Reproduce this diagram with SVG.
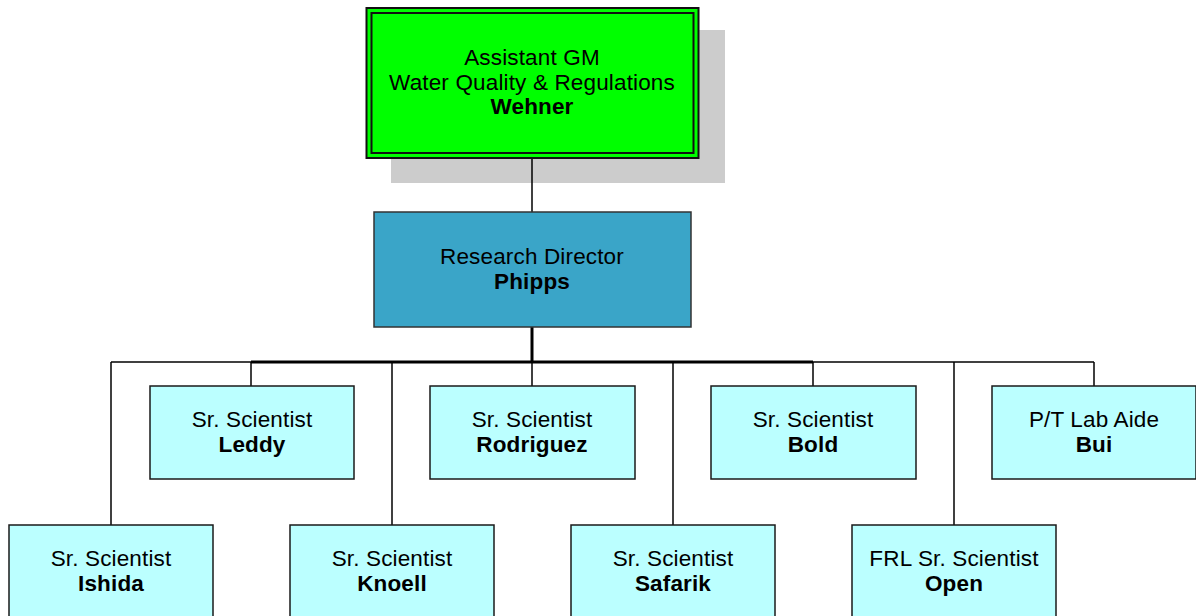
<svg xmlns="http://www.w3.org/2000/svg" width="1196" height="616" viewBox="0 0 1196 616">
<style>
.t{font-family:"Liberation Sans",Arial,sans-serif;font-size:22.5px;fill:#000;text-anchor:middle;letter-spacing:0.15px}
.b{font-weight:bold}
.box{fill:#BBFFFF;stroke:#1a1a1a;stroke-width:1.5}
.ln{stroke:#000;stroke-width:1.5;fill:none}
.thick{stroke:#000;stroke-width:3;fill:none}
</style>
<rect x="391" y="30" width="334" height="153" fill="#cccccc"/>
<g id="connectors">
<line class="ln" x1="532" y1="158" x2="532" y2="212"/>
<line class="thick" x1="532" y1="327" x2="532" y2="362"/>
<line class="ln" x1="111" y1="362" x2="1094" y2="362"/>
<line class="thick" x1="251" y1="362" x2="813" y2="362"/>
<line class="ln" x1="111" y1="362" x2="111" y2="525"/>
<line class="ln" x1="251" y1="362" x2="251" y2="386"/>
<line class="ln" x1="392" y1="362" x2="392" y2="525"/>
<line class="ln" x1="532" y1="362" x2="532" y2="386"/>
<line class="ln" x1="673" y1="362" x2="673" y2="525"/>
<line class="ln" x1="813" y1="362" x2="813" y2="386"/>
<line class="ln" x1="954" y1="362" x2="954" y2="525"/>
<line class="ln" x1="1094" y1="362" x2="1094" y2="386"/>
</g>
<g id="wehner">
<rect x="366.5" y="8" width="332" height="150" fill="#00FF00" stroke="#111" stroke-width="2"/>
<rect x="371.5" y="13" width="322" height="140" fill="none" stroke="#111" stroke-width="2"/>
<text class="t" x="532" y="65">Assistant GM</text>
<text class="t" x="532" y="90">Water Quality &amp; Regulations</text>
<text class="t b" x="532" y="114">Wehner</text>
</g>
<g id="phipps">
<rect x="374" y="212" width="317" height="115" fill="#3AA5C8" stroke="#333" stroke-width="1.5"/>
<text class="t" x="532" y="264">Research Director</text>
<text class="t b" x="532" y="289">Phipps</text>
</g>
<g id="leddy">
<rect class="box" x="150" y="386" width="204" height="93"/>
<text class="t" x="252" y="427">Sr. Scientist</text>
<text class="t b" x="252" y="452">Leddy</text>
</g>
<g id="rodriguez">
<rect class="box" x="430" y="386" width="205" height="93"/>
<text class="t" x="532" y="427">Sr. Scientist</text>
<text class="t b" x="532" y="452">Rodriguez</text>
</g>
<g id="bold">
<rect class="box" x="711" y="386" width="205" height="93"/>
<text class="t" x="813" y="427">Sr. Scientist</text>
<text class="t b" x="813" y="452">Bold</text>
</g>
<g id="bui">
<rect class="box" x="992" y="386" width="204" height="93"/>
<text class="t" x="1094" y="427">P/T Lab Aide</text>
<text class="t b" x="1094" y="452">Bui</text>
</g>
<g id="ishida">
<rect class="box" x="9" y="525" width="204" height="110"/>
<text class="t" x="111" y="566">Sr. Scientist</text>
<text class="t b" x="111" y="591">Ishida</text>
</g>
<g id="knoell">
<rect class="box" x="290" y="525" width="204" height="110"/>
<text class="t" x="392" y="566">Sr. Scientist</text>
<text class="t b" x="392" y="591">Knoell</text>
</g>
<g id="safarik">
<rect class="box" x="571" y="525" width="204" height="110"/>
<text class="t" x="673" y="566">Sr. Scientist</text>
<text class="t b" x="673" y="591">Safarik</text>
</g>
<g id="open">
<rect class="box" x="852" y="525" width="204" height="110"/>
<text class="t" x="954" y="566">FRL Sr. Scientist</text>
<text class="t b" x="954" y="591">Open</text>
</g>
</svg>
